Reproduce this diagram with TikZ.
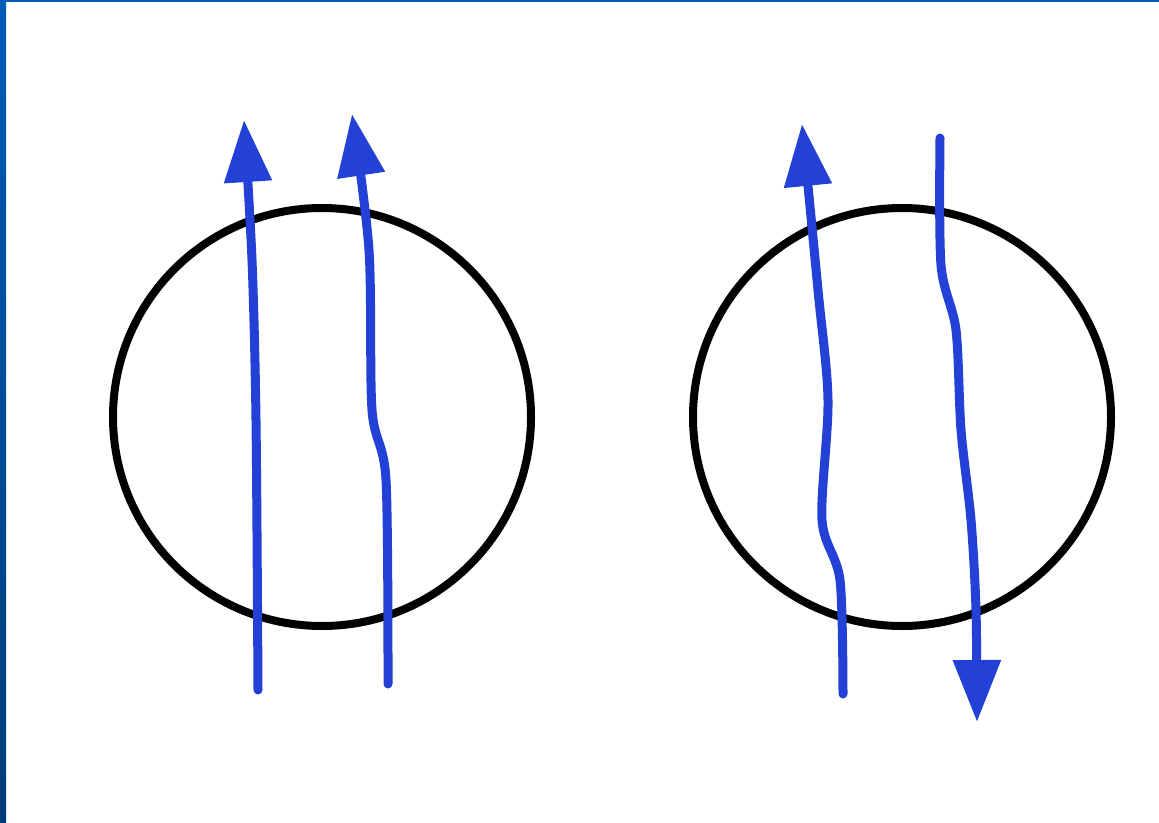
\documentclass[tikz,border=0pt]{standalone}
\usepackage{tikz}
\usetikzlibrary{arrows.meta}

\definecolor{penblue}{RGB}{35,65,215}
\definecolor{framtop}{RGB}{0,92,185}
\definecolor{frambot}{RGB}{0,60,120}

\begin{document}
\begin{tikzpicture}[x=1pt, y=-1pt,
    ring/.style = {draw=black, line width=8pt},
    flux/.style = {draw=penblue, line width=9pt, line cap=round, line join=round,
                   -{Triangle[length=62pt, width=46pt]}},
    flat/.style = {draw=penblue, line width=9pt, line cap=round, line join=round}]

    % page and frame
    \useasboundingbox (0,0) rectangle (1159,822);
    \fill[white] (0,0) rectangle (1159,822);
    \shade[top color=framtop, bottom color=frambot] (0,0) rectangle (6,822);
    \fill[framtop] (0,0) rectangle (1159,1.5);

    % the two loops
    \coordinate (O1) at (322,417);
    \coordinate (O2) at (902,417);
    \draw[ring] (O1) circle (209);
    \draw[ring] (O2) circle (209);

    % left loop: both lines up
    \draw[flux] plot[smooth] coordinates {(258,690) (256,420) (252,260) (244,120)};
    \draw[flux] plot[smooth] coordinates {(388,684) (386,480) (372,410) (369,250) (352,114)};

    % right loop: one up, one down
    \draw[flux] plot[smooth] coordinates {(843,694) (840,580) (822,520) (828,400) (818,290) (802,124)};
    \draw[flux] plot[smooth] coordinates {(940,138) (941,265) (956,330) (961,430) (971,520) (976,610) (977,722)};

\end{tikzpicture}
\end{document}
